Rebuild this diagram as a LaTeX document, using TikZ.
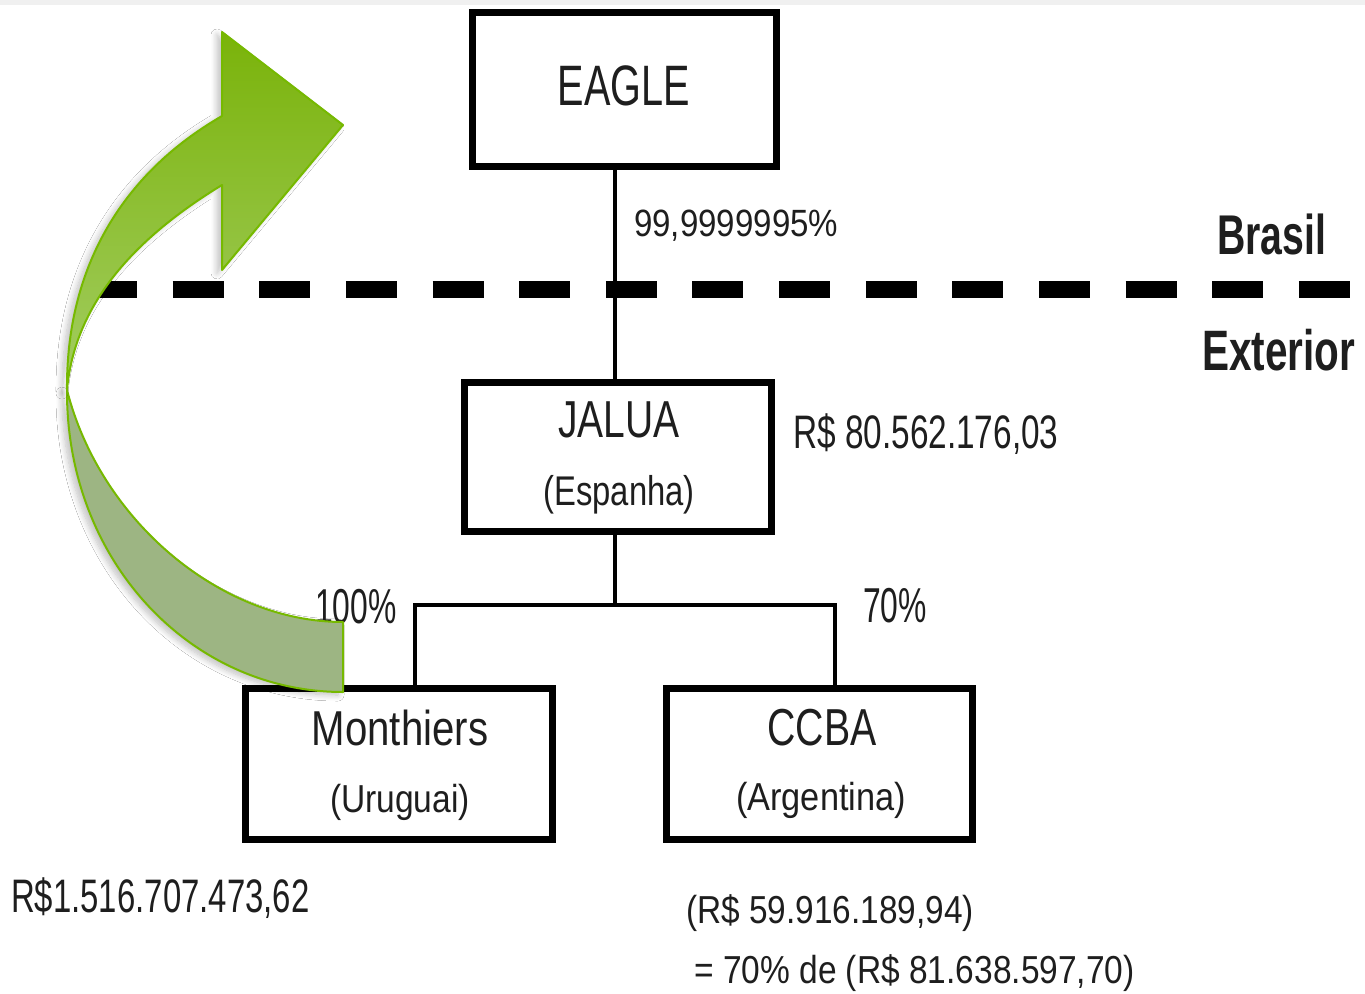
\documentclass[tikz,border=0pt]{standalone}
\usepackage{fontspec}
\setmainfont{Liberation Sans}
\usetikzlibrary{shadows.blur}
\definecolor{txt}{HTML}{1E1E1E}
\definecolor{agreen}{HTML}{76B900}
\definecolor{gtop}{HTML}{7AB30A}
\definecolor{gbot}{HTML}{A3CD62}
\definecolor{gback}{HTML}{9DB583}
\newcommand\sqz[2]{\scalebox{#1}[1]{#2}}
\newcommand\fs[1]{\fontsize{#1}{#1}\selectfont}
\begin{document}
\begin{tikzpicture}[x=1pt,y=-1pt,
  box/.style={draw=black, line width=7pt, rectangle, inner sep=0pt, fill=white},
  lab/.style={inner sep=0pt, text=txt, anchor=base},
  labw/.style={inner sep=0pt, text=txt, anchor=base west},
  link/.style={line width=3.5pt, draw=black},
  border/.style={line width=2pt, agreen, line join=round},
  soft/.style={blur shadow={shadow xshift=-5pt, shadow yshift=-3pt, shadow blur radius=6pt, shadow blur steps=10, shadow opacity=25}}]
\useasboundingbox (0,0) rectangle (1365,993);
\fill[white] (0,0) rectangle (1365,993);
\fill[gray!12] (0,0) rectangle (1365,5);

% border line Brasil / Exterior
\coordinate (dl) at (86,289);
\coordinate (dr) at (1350,289);
\draw[line width=17pt, dash pattern=on 51pt off 35.64pt] (dl) -- (dr);

% boxes
\node[box, minimum width=304pt, minimum height=154pt] (eagle) at (624,89) {};
\node[box, minimum width=307pt, minimum height=149pt] (jalua) at (617.5,456.5) {};
\node[box, minimum width=307pt, minimum height=151pt] (month) at (398.5,763.5) {};
\node[box, minimum width=306pt, minimum height=151pt] (ccba) at (819,763.5) {};

% connectors
\coordinate (jn) at (615,605);
\coordinate (lm) at (415,605);
\coordinate (lc) at (835,605);
\draw[link] (eagle.south -| jn) -- (jalua.north -| jn);
\draw[link] (jalua.south -| jn) -- (jn);
\draw[link] (lm |- month.north) -- (lm) -- (lc) -- (lc |- ccba.north);

% box texts
\node[lab, font=\fs{57}] (teagle) at (624,105) {\sqz{0.695}{EAGLE}};
\node[lab, font=\fs{52}] (tjalua) at (619,437.5) {\sqz{0.75}{JALUA}};
\node[lab, font=\fs{41.5}] (tesp) at (619,505) {\sqz{0.79}{(Espanha)}};
\node[lab, font=\fs{49}] (tmon) at (400,745) {\sqz{0.82}{Monthiers}};
\node[lab, font=\fs{39}] (turu) at (400,812) {\sqz{0.86}{(Uruguai)}};
\node[lab, font=\fs{52}] (tccba) at (822,745) {\sqz{0.755}{CCBA}};
\node[lab, font=\fs{39}] (targ) at (821,810) {\sqz{0.88}{(Argentina)}};

% other labels
\node[labw, font=\fs{38}] (p1) at (634,236) {\sqz{0.87}{99,9999995\%}};
\node[labw, font=\fs{56}\bfseries] (bra) at (1217,254) {\sqz{0.70}{Brasil}};
\node[labw, font=\fs{57}\bfseries] (ext) at (1202,370) {\sqz{0.71}{Exterior}};
\node[labw, font=\fs{47}] (vj) at (793,448) {\sqz{0.71}{R\$ 80.562.176,03}};
\node[labw, font=\fs{49}] (p100) at (315,623) {\sqz{0.65}{100\%}};
\node[labw, font=\fs{49}] (p70) at (863,622) {\sqz{0.65}{70\%}};
\node[labw, font=\fs{47}] (vm) at (11,912) {\sqz{0.70}{R\$1.516.707.473,62}};
\node[labw, font=\fs{39}] (vc1) at (686,923) {\sqz{0.856}{(R\$ 59.916.189,94)}};
\node[labw, font=\fs{39}] (vc2) at (694,983) {\sqz{0.859}{= 70\% de (R\$ 81.638.597,70)}};

% curved green arrow
\path[soft, fill=gback]
  (67,390) .. controls (66,560) and (190,692) .. (343,692) -- (343,622)
  .. controls (220,622) and (100,520) .. (67,390) -- cycle;
\draw[border]
  (67,390) .. controls (66,560) and (190,692) .. (343,692) -- (343,622)
  .. controls (220,622) and (100,520) .. (67,390) -- cycle;
\path[soft, top color=gtop, bottom color=gbot]
  (222,116) -- (222,32) -- (343,125) -- (222,270) -- (222,185)
  .. controls (140,235) and (75,300) .. (67,390)
  .. controls (66,270) and (120,175) .. (222,116) -- cycle;
\draw[border]
  (222,116) -- (222,32) -- (343,125) -- (222,270) -- (222,185)
  .. controls (140,235) and (75,300) .. (67,390)
  .. controls (66,270) and (120,175) .. (222,116) -- cycle;
\end{tikzpicture}
\end{document}
